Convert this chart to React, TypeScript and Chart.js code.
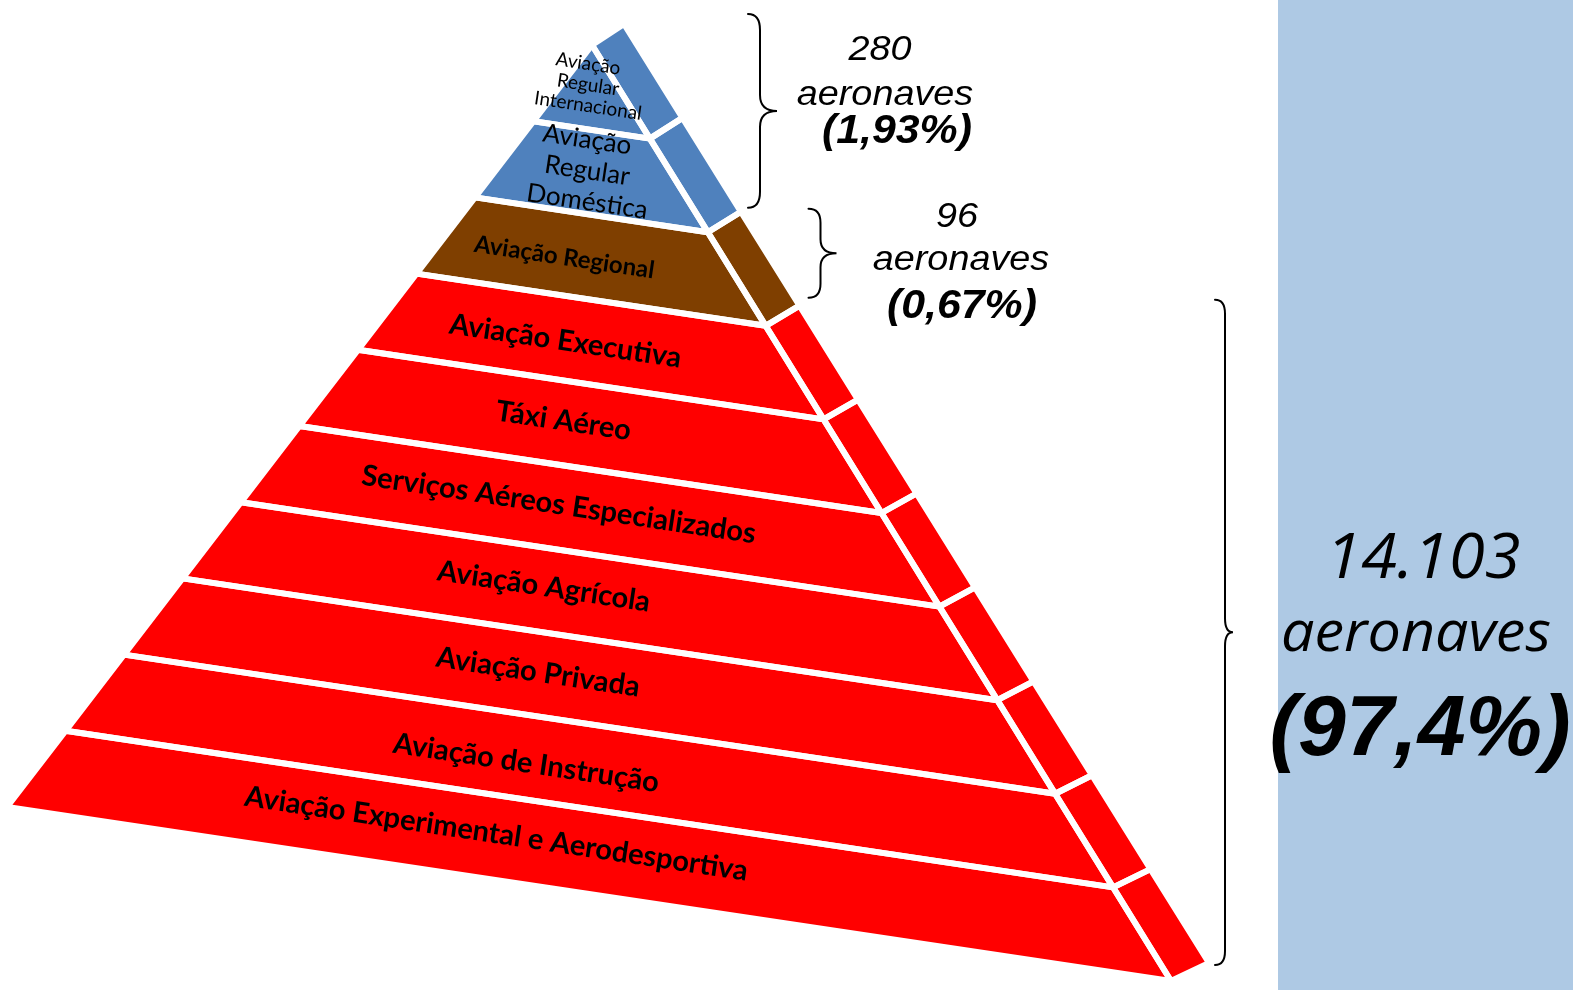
import React, { useEffect, useRef } from 'react';
import { Chart, registerables } from 'chart.js';

Chart.register(...registerables);

// ---------------- data ----------------
const LAYER_LABELS = [
  'Aviação\nRegular\nInternacional',
  'Aviação\nRegular\nDoméstica',
  'Aviação Regional',
  'Aviação Executiva',
  'Táxi Aéreo',
  'Serviços Aéreos Especializados',
  'Aviação Agrícola',
  'Aviação Privada',
  'Aviação de Instrução',
  'Aviação Experimental e Aerodesportiva',
];
const LAYER_GROUP = [0, 0, 1, 2, 2, 2, 2, 2, 2, 2];
const GROUP_COUNTS = ['280', '96', '14.103'];
const GROUP_UNITS = ['aeronaves', 'aeronaves', 'aeronaves'];
const GROUP_SHARES = ['(1,93%)', '(0,67%)', '(97,4%)'];

// ---------------- styles / layout ----------------
const W = 1573;
const H = 990;
const GROUP_COLORS = ['#4f81bd', '#7f3f00', '#ff0000'];
const PANEL_COLOR = '#aec9e4';
const GAP_COLOR = '#ffffff';
const GAP_WIDTH = 6;

type P = { x: number; y: number };
// pyramid frame (drawing units, y grows downward)
const FRONT_APEX: P = { x: 592, y: 45 };
const FRONT_LEFT: P = { x: 7, y: 807 };
const FRONT_RIGHT: P = { x: 1171, y: 981 };
const BACK_APEX: P = { x: 624, y: 24 };
const BACK_RIGHT: P = { x: 1209, y: 963 };
const PANEL_LEFT = 1278;
const LABEL_U = 0.435;

const LF = 'Lato, "Open Sans", sans-serif';
const LABEL_STYLE = [
  { font: `19px ${LF}`, lh: 21, dx: 0, dy: -2 },
  { font: `26px ${LF}`, lh: 31, dx: 7, dy: 0 },
  { font: `bold 24px ${LF}`, lh: 0, dx: -8, dy: 3 },
  { font: `bold 29px ${LF}`, lh: 0, dx: 1, dy: 3 },
  { font: `bold 29px ${LF}`, lh: 0, dx: 7, dy: -1 },
  { font: `bold 29px ${LF}`, lh: 0, dx: 10, dy: -1 },
  { font: `bold 29px ${LF}`, lh: 0, dx: 3, dy: -3 },
  { font: `bold 29px ${LF}`, lh: 0, dx: 5, dy: -1 },
  { font: `bold 29px ${LF}`, lh: 0, dx: 1, dy: 6 },
  { font: `bold 29px ${LF}`, lh: 0, dx: -21, dy: -7 },
];

const SANS = '"Liberation Sans", Arial, sans-serif';
const OPEN = '"Open Sans", sans-serif';
// annotation text placement per group: [count, unit, share]
const ANNOT_LAYOUT = [
  [
    { x: 880, y: 60, font: `italic 35px ${SANS}`, sx: 1.08 },
    { x: 885, y: 105, font: `italic 35px ${SANS}`, sx: 1.08 },
    { x: 897, y: 143, font: `italic bold 40px ${SANS}`, sx: 1.07 },
  ],
  [
    { x: 957, y: 227, font: `italic 35px ${SANS}`, sx: 1.08 },
    { x: 961, y: 270, font: `italic 35px ${SANS}`, sx: 1.08 },
    { x: 962, y: 318, font: `italic bold 40px ${SANS}`, sx: 1.07 },
  ],
  [
    { x: 1423, y: 578, font: `italic 63px ${OPEN}`, sx: 1.03 },
    { x: 1416, y: 651, font: `italic 57px ${OPEN}`, sx: 1.04 },
    { x: 1420, y: 755, font: `italic bold 86px ${SANS}`, sx: 1 },
  ],
];
const BRACE_STYLE = [
  { dx: 19, top: -10, bot: -4, tip: 17, back: 12, r: 16 },
  { dx: 21, top: -3, bot: -8, tip: 16, back: 12, r: 14 },
  { dx: 16, top: -6, bot: 2, tip: 8, back: 10, r: 14 },
];

// ---------------- geometry helpers ----------------
const lerp = (a: P, b: P, t: number): P => ({ x: a.x + (b.x - a.x) * t, y: a.y + (b.y - a.y) * t });
const N = LAYER_LABELS.length;
const frontL = (t: number) => lerp(FRONT_APEX, FRONT_LEFT, t);
const frontR = (t: number) => lerp(FRONT_APEX, FRONT_RIGHT, t);
const backR = (t: number) => lerp(BACK_APEX, BACK_RIGHT, t);

function buildDatasets() {
  const ds: any[] = [];
  LAYER_LABELS.forEach((_, k) => {
    const t0 = k / N;
    const t1 = (k + 1) / N;
    const color = GROUP_COLORS[LAYER_GROUP[k]];
    const front = [frontL(t0), frontL(t1), frontR(t1), frontR(t0), frontL(t0)];
    const side = [frontR(t0), frontR(t1), backR(t1), backR(t0), frontR(t0)];
    [front, side].forEach((poly, i) => {
      ds.push({
        label: LAYER_LABELS[k].replace(/\n/g, ' ') + (i ? ' (lado)' : ''),
        data: poly,
        backgroundColor: color,
        borderColor: GAP_COLOR,
        borderWidth: GAP_WIDTH,
        borderJoinStyle: 'bevel',
        fill: 'shape',
        pointRadius: 0,
        pointHoverRadius: 0,
        tension: 0,
      });
    });
  });
  ds.push({
    label: 'painel',
    data: [
      { x: PANEL_LEFT, y: 0 },
      { x: W, y: 0 },
      { x: W, y: H },
      { x: PANEL_LEFT, y: H },
      { x: PANEL_LEFT, y: 0 },
    ],
    backgroundColor: PANEL_COLOR,
    borderColor: 'rgba(0,0,0,0)',
    borderWidth: 1,
    fill: 'shape',
    pointRadius: 0,
    pointHoverRadius: 0,
    tension: 0,
  });
  return ds;
}

const overlay = {
  id: 'overlay',
  afterDatasetsDraw(chart: any) {
    const { ctx } = chart;
    const sx = chart.scales.x;
    const sy = chart.scales.y;
    const px = (p: P): P => ({ x: sx.getPixelForValue(p.x), y: sy.getPixelForValue(p.y) });
    const a = px(FRONT_LEFT);
    const b = px(FRONT_RIGHT);
    const ang = Math.atan2(b.y - a.y, b.x - a.x);

    ctx.save();
    ctx.fillStyle = '#000';
    ctx.textAlign = 'center';
    ctx.textBaseline = 'middle';
    LAYER_LABELS.forEach((lab, k) => {
      const tm = (k + 0.5) / N;
      const c = px(lerp(frontL(tm), frontR(tm), LABEL_U));
      const st = LABEL_STYLE[k];
      ctx.font = st.font;
      const lines = lab.split('\n');
      lines.forEach((ln, i) => {
        const dy = (i - (lines.length - 1) / 2) * st.lh;
        ctx.save();
        ctx.translate(c.x + st.dx, c.y + dy + st.dy);
        ctx.rotate(ang);
        ctx.fillText(ln, 0, 0);
        ctx.restore();
      });
    });

    // braces
    ctx.strokeStyle = '#000';
    ctx.lineWidth = 2;
    ctx.lineCap = 'round';
    GROUP_COUNTS.forEach((_, g) => {
      const idx = LAYER_GROUP.map((v, i) => (v === g ? i : -1)).filter((i) => i >= 0);
      const t0 = idx[0] / N;
      const t1 = (idx[idx.length - 1] + 1) / N;
      const bs = BRACE_STYLE[g];
      const top = px(backR(t0));
      const bot = px(backR(t1));
      const x = bot.x + bs.dx;
      const y0 = top.y + bs.top;
      const y1 = bot.y + bs.bot;
      const ym = (y0 + y1) / 2;
      ctx.beginPath();
      ctx.moveTo(x - bs.back, y0);
      ctx.quadraticCurveTo(x, y0, x, y0 + bs.r);
      ctx.lineTo(x, ym - bs.r);
      ctx.quadraticCurveTo(x, ym, x + bs.tip, ym);
      ctx.quadraticCurveTo(x, ym, x, ym + bs.r);
      ctx.lineTo(x, y1 - bs.r);
      ctx.quadraticCurveTo(x, y1, x - bs.back, y1);
      ctx.stroke();

      // annotation text
      const texts = [GROUP_COUNTS[g], GROUP_UNITS[g], GROUP_SHARES[g]];
      ctx.textBaseline = 'alphabetic';
      texts.forEach((t, i) => {
        const L = ANNOT_LAYOUT[g][i];
        const p = px({ x: L.x, y: L.y });
        ctx.font = L.font;
        ctx.save();
        ctx.translate(p.x, p.y);
        ctx.scale(L.sx, 1);
        ctx.fillText(t, 0, 0);
        ctx.restore();
      });
    });
    ctx.restore();
  },
};

export default function App() {
  const ref = useRef<HTMLCanvasElement>(null);
  useEffect(() => {
    document.body.style.margin = '0';
    const chart = new Chart(ref.current as HTMLCanvasElement, {
      type: 'line',
      data: { datasets: buildDatasets() },
      options: {
        responsive: false,
        animation: false,
        events: [],
        layout: { padding: 0 },
        scales: {
          x: { type: 'linear', min: 0, max: W, display: false },
          y: { type: 'linear', min: 0, max: H, reverse: true, display: false },
        },
        plugins: {
          legend: { display: false },
          tooltip: { enabled: false },
          filler: { drawTime: 'beforeDatasetsDraw' },
        },
      } as any,
      plugins: [overlay],
    });
    const fonts: any = (document as any).fonts;
    if (fonts && fonts.ready) fonts.ready.then(() => chart.draw());
    return () => chart.destroy();
  }, []);
  return (
    <div style={{ position: 'fixed', left: 0, top: 0, width: W, height: H, background: '#fff' }}>
      <canvas ref={ref} width={W} height={H} style={{ display: 'block', width: W, height: H }} />
    </div>
  );
}
